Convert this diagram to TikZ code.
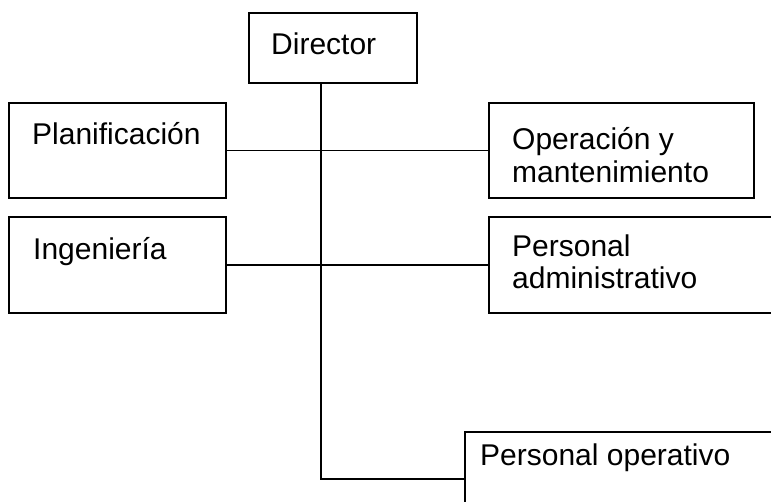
\documentclass[tikz,border=0pt]{standalone}
\usepackage{fontspec}
\setmainfont{Liberation Sans}
\begin{document}
\begin{tikzpicture}[x=1pt,y=-1pt,
  box/.style={draw, line width=1.4pt, inner sep=0pt, outer sep=0pt},
  txt/.style={anchor=base west, inner sep=0pt, font=\fontsize{30}{33}\selectfont},
  conn/.style={line width=1.2pt}]
\useasboundingbox (0,0) rectangle (771,502);
\clip (0,0) rectangle (771,502);
% boxes
\node[box, minimum width=168pt, minimum height=70pt] (dir) at (333,48) {};
\node[box, minimum width=217pt, minimum height=95pt] (plan) at (117.5,150.5) {};
\node[box, minimum width=217pt, minimum height=96pt] (ing) at (117.5,265) {};
\node[box, minimum width=265pt, minimum height=95pt] (oper) at (621.5,150.5) {};
\node[box, minimum width=311pt, minimum height=96pt] (padm) at (644.5,265) {};
\node[box, minimum width=335pt, minimum height=108pt] (pop) at (632.5,486) {};
% texts
\node[txt] (tdir) at (271,55) {Director};
\node[txt] (tplan) at (32,145) {Planificación};
\node[txt] (ting) at (33,260) {Ingeniería};
\node[txt] (toper1) at (512,149.5) {Operación y};
\node[txt] (toper2) at (512,182.5) {mantenimiento};
\node[txt] (tpadm1) at (512,257) {Personal};
\node[txt] (tpadm2) at (512,288.5) {administrativo};
\node[txt] (tpop) at (480,465) {Personal operativo};
% connectors
\coordinate (pj) at (321,479);
\draw[conn] (pj |- dir.south) -- (pj) -- (pj -| pop.west);
\draw[conn] (plan.east) -- (oper.west);
\draw[conn] (ing.east) -- (padm.west);
\end{tikzpicture}
\end{document}
